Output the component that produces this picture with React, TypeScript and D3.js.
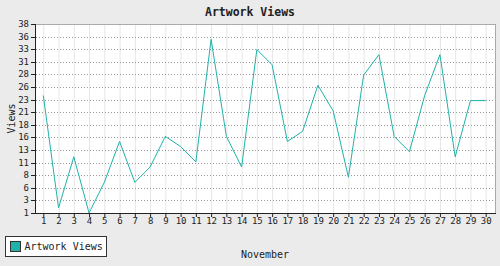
import React from "react";
import * as d3 from "d3";

const days: string[] = Array.from({ length: 30 }, (_, i) => String(i + 1));
const views: number[] = [24, 2, 12, 1, 7, 15, 7, 10, 16, 14, 11, 35, 16, 10, 33, 30, 15, 17, 26, 21, 8, 28, 32, 16, 13, 24, 32, 12, 23, 23];
const yMin = 1;
const yMax = 38;
const yTickCount = 16;
const title = "Artwork Views";
const xTitle = "November";
const yTitle = "Views";
const seriesName = "Artwork Views";

const W = 500;
const H = 266;
const L = 35, R = 495, T = 24, B = 213;
const FONT = "'DejaVu Sans Mono', 'Liberation Mono', monospace";
const COLOR = "#20b2aa";

export default function App() {
  const x = d3.scalePoint<string>().domain(days).range([43.3, 485.7]);
  const y = d3.scaleLinear().domain([yMin, yMax]).range([B, T]);
  const yTicks = d3.range(yTickCount).map((i) => yMin + (i * (yMax - yMin)) / (yTickCount - 1));
  const line = d3
    .line<number>()
    .x((_, i) => x(days[i]) as number)
    .y((d) => y(d));

  return (
    <svg width={W} height={H} style={{ position: "absolute", left: 0, top: 0 }} xmlns="http://www.w3.org/2000/svg">
      <rect x={0} y={0} width={W} height={H} fill="#ebebeb" />
      <rect x={L} y={T} width={R - L} height={B - T} fill="#ffffff" />
      {/* vertical grid */}
      {days.map((d) => (
        <line key={"vg" + d} x1={(x(d) as number) + 0.5} x2={(x(d) as number) + 0.5} y1={T} y2={B} stroke="#e6e6e6" strokeWidth={1} />
      ))}
      {/* horizontal dotted grid */}
      {yTicks.slice(1, -1).map((t, i) => (
        <line key={"hg" + i} x1={L + 1} x2={R} y1={Math.round(y(t)) + 0.5} y2={Math.round(y(t)) + 0.5} stroke="#999" strokeWidth={1} strokeDasharray="1,2" />
      ))}
      {/* border top/right */}
      <line x1={L} x2={R + 0.5} y1={T + 0.5} y2={T + 0.5} stroke="#aaa" />
      <line x1={R + 0.5} x2={R + 0.5} y1={T} y2={B} stroke="#aaa" />
      {/* series line */}
      <path d={line(views) || ""} fill="none" stroke={COLOR} strokeWidth={1} />
      {/* axes */}
      <line x1={L + 0.5} x2={L + 0.5} y1={T} y2={B + 1} stroke="#222" strokeWidth={1} />
      <line x1={L} x2={R + 1} y1={B + 0.5} y2={B + 0.5} stroke="#222" strokeWidth={1} />
      {yTicks.map((t, i) => (
        <g key={"yt" + i}>
          <line x1={L - 4} x2={L} y1={Math.round(y(t)) + 0.5} y2={Math.round(y(t)) + 0.5} stroke="#222" />
          <text x={L - 6} y={y(t) + 3} textAnchor="end" fontFamily={FONT} fontSize={9} fill="#222">
            {Math.round(t)}
          </text>
        </g>
      ))}
      {days.map((d) => (
        <g key={"xt" + d}>
          <line x1={(x(d) as number) + 0.5} x2={(x(d) as number) + 0.5} y1={B} y2={B + 4} stroke="#222" />
          <text x={(x(d) as number) + 0.5} y={224} textAnchor="middle" fontFamily={FONT} fontSize={9} fill="#222">
            {d}
          </text>
        </g>
      ))}
      {/* titles */}
      <text x={250} y={16} textAnchor="middle" fontFamily={FONT} fontWeight="bold" fontSize={11.5} fill="#222">
        {title}
      </text>
      <text x={(L + R) / 2} y={258} textAnchor="middle" fontFamily={FONT} fontSize={10} fill="#222">
        {xTitle}
      </text>
      <text transform={`translate(15, ${(T + B) / 2}) rotate(-90)`} textAnchor="middle" fontFamily={FONT} fontSize={10} fill="#222">
        {yTitle}
      </text>
      {/* legend */}
      <rect x={5.5} y={236.5} width={101} height={20} fill="#fff" stroke="#333" strokeWidth={1} />
      <rect x={10.5} y={241.5} width={10} height={10} fill={COLOR} stroke="#333" strokeWidth={1} />
      <text x={24.5} y={250} fontFamily={FONT} fontSize={10} fill="#222">
        {seriesName}
      </text>
    </svg>
  );
}
